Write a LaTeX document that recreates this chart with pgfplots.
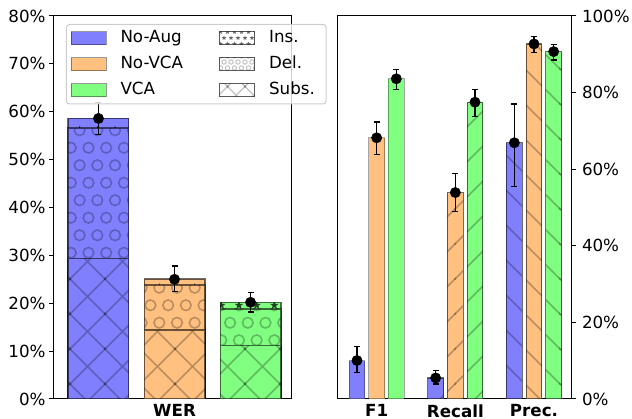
\documentclass[border=0pt]{standalone}
\usepackage{pgfplots}
\pgfplotsset{compat=1.18}
\usepackage{fontspec}
\setmainfont{DejaVu Sans}
\usetikzlibrary{patterns.meta}

\definecolor{cblue}{RGB}{128,128,255}
\definecolor{corange}{RGB}{255,192,128}
\definecolor{cgreen}{RGB}{128,255,128}

% bar hatches
\tikzdeclarepattern{name=xh, type=uncolored,
  bottom left={(-1pt,-1pt)}, top right={(36pt,36pt)}, tile size={(35pt,35pt)},
  code={\draw[line width=1.5pt] (-1pt,-1pt) -- (36pt,36pt) (-1pt,36pt) -- (36pt,-1pt);}}
\tikzdeclarepattern{name=oh, type=uncolored,
  bottom left={(-7pt,-1pt)}, top right={(19pt,36pt)}, tile size={(17.7pt,35pt)},
  code={\draw[line width=1.6pt] (8.85pt,8.75pt) circle[radius=5.3pt] (0pt,26.25pt) circle[radius=5.3pt];}}
\tikzdeclarepattern{name=sh, type=uncolored,
  bottom left={(-6pt,-1pt)}, top right={(19pt,36pt)}, tile size={(17.7pt,35pt)},
  code={
    \fill[shift={(8.85pt,8.75pt)}] (90:4.5pt) -- (126:1.8pt) -- (162:4.5pt) -- (198:1.8pt) -- (234:4.5pt) -- (270:1.8pt) -- (306:4.5pt) -- (342:1.8pt) -- (18:4.5pt) -- (54:1.8pt) -- cycle;
    \fill[shift={(0pt,26.25pt)}] (90:4.5pt) -- (126:1.8pt) -- (162:4.5pt) -- (198:1.8pt) -- (234:4.5pt) -- (270:1.8pt) -- (306:4.5pt) -- (342:1.8pt) -- (18:4.5pt) -- (54:1.8pt) -- cycle;
  }}
\tikzdeclarepattern{name=neh, type=uncolored,
  bottom left={(-1pt,-1pt)}, top right={(36pt,36pt)}, tile size={(35pt,35pt)},
  code={\draw[line width=1.5pt] (-1pt,-1pt) -- (36pt,36pt);}}
\tikzdeclarepattern{name=nwh, type=uncolored,
  bottom left={(-1pt,-1pt)}, top right={(36pt,36pt)}, tile size={(35pt,35pt)},
  code={\draw[line width=1.5pt] (-1pt,36pt) -- (36pt,-1pt);}}
% legend hatches (smaller)
\tikzdeclarepattern{name=xhS, type=uncolored,
  bottom left={(-1pt,-1pt)}, top right={(18.5pt,18.5pt)}, tile size={(17.5pt,17.5pt)},
  code={\draw[line width=1.1pt] (-1pt,-1pt) -- (18.5pt,18.5pt) (-1pt,18.5pt) -- (18.5pt,-1pt);}}
\tikzdeclarepattern{name=ohS, type=uncolored,
  bottom left={(-3pt,-1pt)}, top right={(8pt,13pt)}, tile size={(7pt,12pt)},
  code={\draw[line width=1pt] (3.5pt,3pt) circle[radius=2.2pt] (0pt,9pt) circle[radius=2.2pt];}}
\tikzdeclarepattern{name=shS, type=uncolored,
  bottom left={(-3pt,-1pt)}, top right={(8pt,13pt)}, tile size={(7pt,12pt)},
  code={
    \fill[shift={(3.5pt,3pt)}] (90:2.4pt) -- (126:1pt) -- (162:2.4pt) -- (198:1pt) -- (234:2.4pt) -- (270:1pt) -- (306:2.4pt) -- (342:1pt) -- (18:2.4pt) -- (54:1pt) -- cycle;
    \fill[shift={(0pt,9pt)}] (90:2.4pt) -- (126:1pt) -- (162:2.4pt) -- (198:1pt) -- (234:2.4pt) -- (270:1pt) -- (306:2.4pt) -- (342:1pt) -- (18:2.4pt) -- (54:1pt) -- cycle;
  }}

\pgfplotsset{
  lbar/.style={ybar, bar width=0.8, bar shift=0pt, draw=black, draw opacity=0.35, line width=1.2pt, forget plot},
  rbar/.style={ybar, bar width=0.2, bar shift=0pt, draw=black, draw opacity=0.35, line width=1.2pt, forget plot},
  errplot/.style={forget plot, only marks, mark=*, mark size=5.2pt, black, mark options={fill=black, solid},
    error bars/.cd, y dir=both, y explicit,
    error bar style={line width=1.3pt, black},
    error mark options={rotate=90, mark size=3pt, line width=1.3pt, black}},
  common/.style={
    anchor=south west, scale only axis, height=383pt,
    axis line style={line width=1pt},
    /pgf/number format/assume math mode=true,
    tick label style={font=\fontsize{16.7}{20}\selectfont},
    tick align=outside, major tick length=5pt,
    y tick style={line width=1pt, black},
    x tick style={draw=none},
    xticklabel style={inner sep=0pt, anchor=north, yshift=-0.5pt},
    yticklabel={\pgfmathprintnumber{\tick}\%},
  }
}

\begin{document}
\begin{tikzpicture}
\useasboundingbox (0,0) rectangle (632pt,419pt);

\begin{axis}[common,
  at={(54pt,20pt)}, width=238pt,
  xmin=-0.585, xmax=2.545, ymin=0, ymax=80,
  xtick={1}, xticklabels={\bfseries WER},
  ytick={0,10,...,80}, ytick pos=left,
  yticklabel style={inner sep=0pt, anchor=east, xshift=-3.3pt},
  legend columns=3, transpose legend,
  legend image code/.code={\draw[#1] (0pt,-6.3pt) rectangle (35pt,6.3pt);},
  legend style={at={(0,1)}, anchor=north west, xshift=12pt, yshift=-8pt,
    draw=black!20, line width=1pt, rounded corners=3pt, fill=white, fill opacity=0.8,
    draw opacity=1, text opacity=1, inner xsep=4pt, inner ysep=4pt,
    font=\fontsize{16.7}{20}\selectfont, column sep=12pt, row sep=6.5pt,
    nodes={inner sep=2pt, text height=12pt, text depth=3.5pt},
    cells={anchor=west}},
]
% No-Aug
\addplot[lbar, fill=cblue, postaction={pattern=sh, pattern color=cblue!25!black}] coordinates {(0,58.6)};
\addplot[lbar, fill=cblue, postaction={pattern=oh, pattern color=cblue!25!black}] coordinates {(0,56.6)};
\addplot[lbar, fill=cblue, postaction={pattern=xh, pattern color=cblue!25!black}] coordinates {(0,29.4)};
% No-VCA
\addplot[lbar, fill=corange, postaction={pattern=sh, pattern color=corange!25!black}] coordinates {(1,25.05)};
\addplot[lbar, fill=corange, postaction={pattern=oh, pattern color=corange!25!black}] coordinates {(1,23.8)};
\addplot[lbar, fill=corange, postaction={pattern=xh, pattern color=corange!25!black}] coordinates {(1,14.4)};
% VCA
\addplot[lbar, fill=cgreen, postaction={pattern=sh, pattern color=cgreen!25!black}] coordinates {(2,20.2)};
\addplot[lbar, fill=cgreen, postaction={pattern=oh, pattern color=cgreen!25!black}] coordinates {(2,18.8)};
\addplot[lbar, fill=cgreen, postaction={pattern=xh, pattern color=cgreen!25!black}] coordinates {(2,11.2)};
% errors
\addplot[errplot] coordinates {
  (0,58.6) += (0,3.3) -= (0,3.4)
  (1,25.0) += (0,2.8) -= (0,2.5)
  (2,20.2) += (0,2.1) -= (0,2.0)
};
% legend
\addlegendimage{fill=cblue, draw=black, draw opacity=0.4, fill opacity=1, sharp corners, line width=1pt}
\addlegendentry[text width=84.6pt]{No-Aug}
\addlegendimage{fill=corange, draw=black, draw opacity=0.4, fill opacity=1, sharp corners, line width=1pt}
\addlegendentry[text width=84.6pt]{No-VCA}
\addlegendimage{fill=cgreen, draw=black, draw opacity=0.4, fill opacity=1, sharp corners, line width=1pt}
\addlegendentry[text width=84.6pt]{VCA}
\addlegendimage{fill=white, draw=black, draw opacity=0.4, fill opacity=1, sharp corners, line width=1pt, postaction={pattern=shS, pattern color=black!60}}
\addlegendentry[text width=51pt]{Ins.}
\addlegendimage{fill=white, draw=black, draw opacity=0.4, fill opacity=1, sharp corners, line width=1pt, postaction={pattern=ohS, pattern color=black!60}}
\addlegendentry[text width=51pt]{Del.}
\addlegendimage{fill=white, draw=black, draw opacity=0.4, fill opacity=1, sharp corners, line width=1pt, postaction={pattern=xhS, pattern color=black!60}}
\addlegendentry[text width=51pt]{Subs.}
\end{axis}

\begin{axis}[common,
  at={(337.3pt,20pt)}, width=233.7pt,
  xmin=-0.5, xmax=2.47, ymin=0, ymax=100,
  xtick={0,1,2}, xticklabels={\bfseries F1, \bfseries Recall, \bfseries Prec.},
  ytick={0,20,...,100}, ytick pos=right, yticklabel pos=right,
  yticklabel style={inner sep=0pt, anchor=west, xshift=5.8pt},
]
% No-Aug
\addplot[rbar, fill=cblue] coordinates {(-0.25,10.05)};
\addplot[rbar, fill=cblue, postaction={pattern=neh, pattern color=cblue!25!black}] coordinates {(0.75,5.5)};
\addplot[rbar, fill=cblue, postaction={pattern=nwh, pattern color=cblue!25!black}] coordinates {(1.75,66.9)};
% No-VCA
\addplot[rbar, fill=corange] coordinates {(0,68.2)};
\addplot[rbar, fill=corange, postaction={pattern=neh, pattern color=corange!25!black}] coordinates {(1,53.9)};
\addplot[rbar, fill=corange, postaction={pattern=nwh, pattern color=corange!25!black}] coordinates {(2,92.7)};
% VCA
\addplot[rbar, fill=cgreen] coordinates {(0.25,83.6)};
\addplot[rbar, fill=cgreen, postaction={pattern=neh, pattern color=cgreen!25!black}] coordinates {(1.25,77.5)};
\addplot[rbar, fill=cgreen, postaction={pattern=nwh, pattern color=cgreen!25!black}] coordinates {(2.25,90.7)};
% errors
\addplot[errplot] coordinates {
  (-0.25,10.05) += (0,3.6) -= (0,3.2)
  (0.75,5.5) += (0,1.9) -= (0,1.6)
  (1.75,66.9) += (0,10.1) -= (0,11.4)
  (0,68.2) += (0,4.1) -= (0,4.4)
  (1,53.9) += (0,5.0) -= (0,5.0)
  (2,92.7) += (0,1.9) -= (0,2.2)
  (0.25,83.6) += (0,2.4) -= (0,2.8)
  (1.25,77.5) += (0,3.3) -= (0,3.7)
  (2.25,90.7) += (0,1.8) -= (0,2.2)
};
\end{axis}
\end{tikzpicture}
\end{document}
